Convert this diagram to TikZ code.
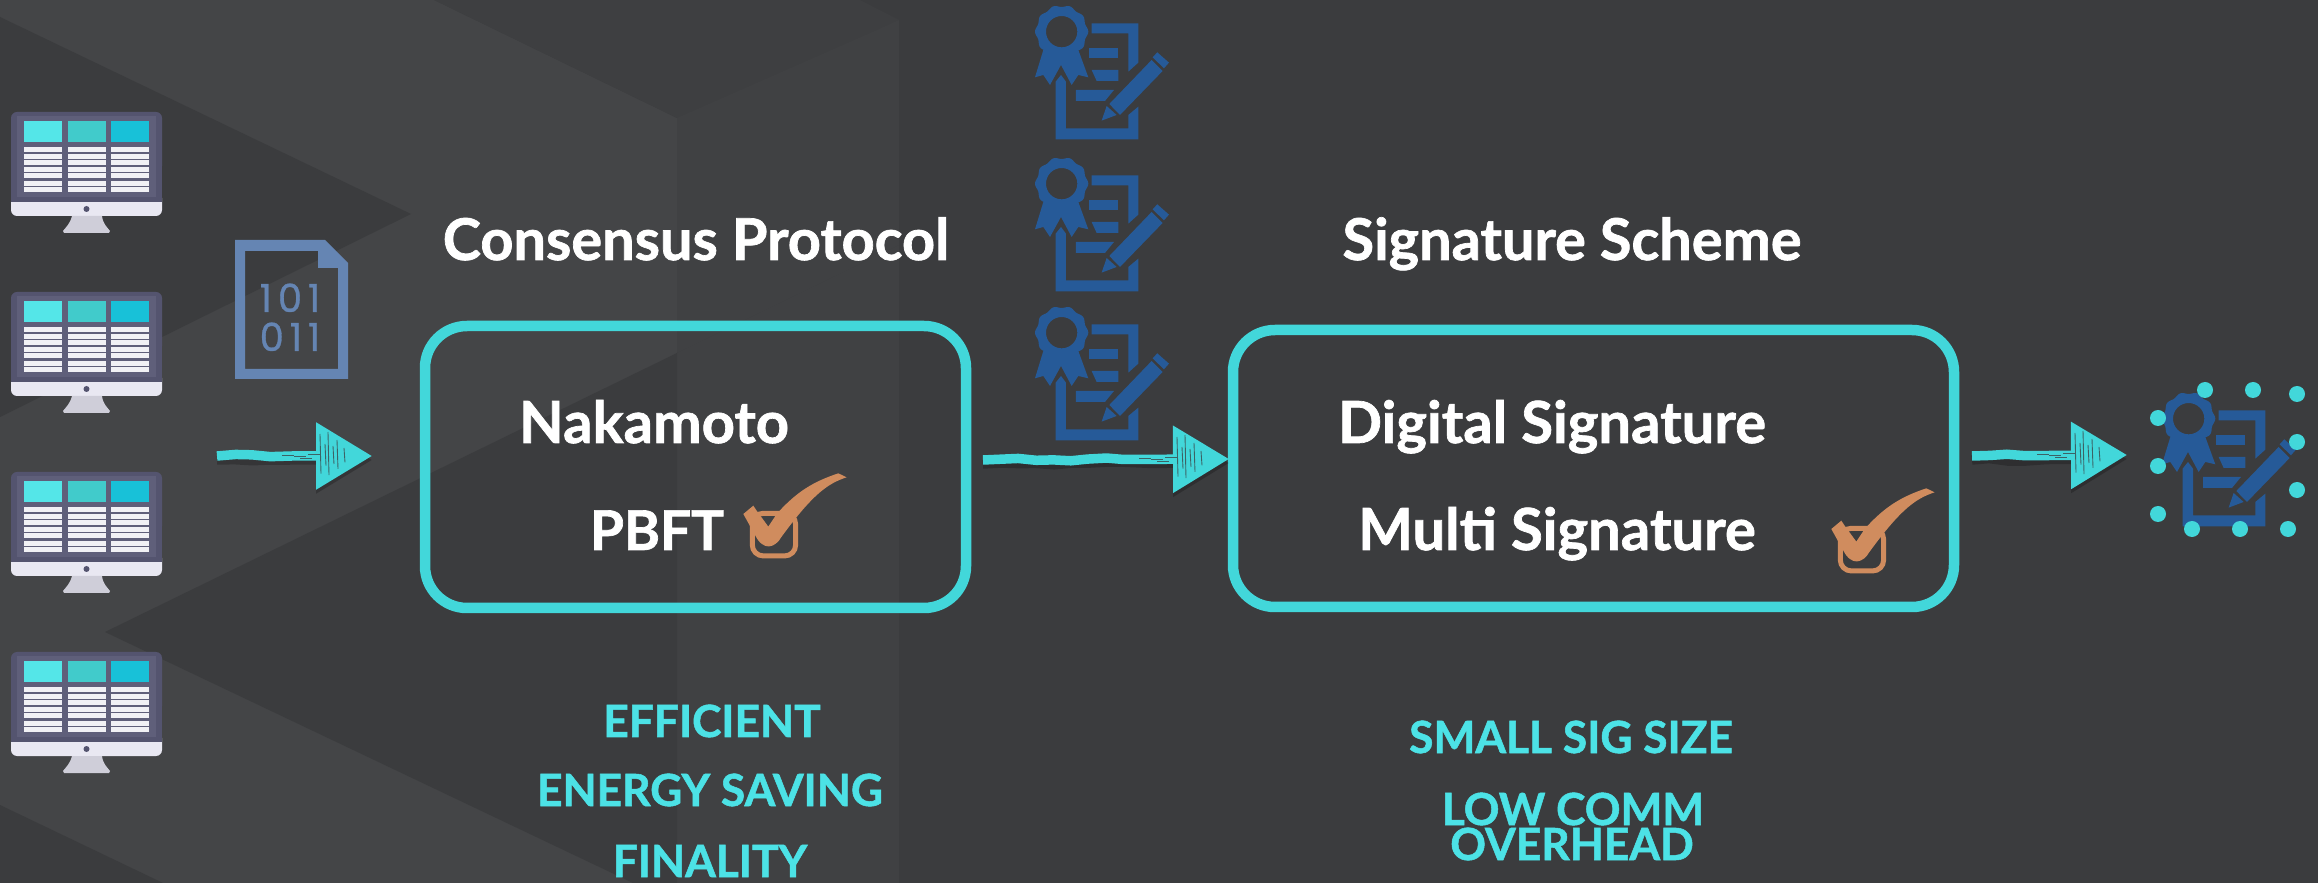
\documentclass[tikz,border=0pt]{standalone}
\usepackage{fontspec}
\setmainfont{Lato}[BoldFeatures={FakeBold=1.2}]
\newfontfamily\bitsfont{Poppins}[LetterSpace=15,FakeBold=.8]
\usetikzlibrary{arrows.meta,decorations.pathmorphing}

\definecolor{bgdark}{HTML}{3B3C3E}
\definecolor{bgmid}{HTML}{404143}
\definecolor{bgband}{HTML}{3E3F41}
\definecolor{bglight}{HTML}{444547}
\definecolor{tealline}{HTML}{42D7DA}
\definecolor{tealtext}{HTML}{4CE2E6}
\definecolor{certblue}{HTML}{265A98}
\definecolor{fileblue}{HTML}{6585B3}
\definecolor{tickorange}{HTML}{D08C5E}
\definecolor{monbezel}{HTML}{54546F}
\definecolor{monpanel}{HTML}{5F5F7A}
\definecolor{monchin}{HTML}{E9E8F2}
\definecolor{monstand}{HTML}{CFCED9}
\definecolor{monrow}{HTML}{F1F1F5}
\definecolor{monone}{HTML}{54E6E8}
\definecolor{montwo}{HTML}{41CBCB}
\definecolor{monthree}{HTML}{18C1D8}

\tikzset{
  boxstyle/.style={draw=tealline, line width=1.05mm, rounded corners=4.2mm, inner sep=0pt},
  headtext/.style={text=white, anchor=base, inner sep=0pt, font=\fontsize{16.4}{18}\selectfont\bfseries},
  itemtext/.style={text=white, anchor=base, inner sep=0pt, font=\fontsize{16.5}{18}\selectfont\bfseries},
  gaintext/.style={text=tealtext, anchor=base, inner sep=0pt, font=\fontsize{12.6}{14}\selectfont\bfseries},
  bittext/.style={text=fileblue, anchor=base, inner sep=0pt, font=\fontsize{11}{13}\selectfont\bitsfont},
  brushtip/.style={-{Triangle[length=5.6mm,width=6.5mm]}, line width=.95mm, decorate, decoration={random steps, segment length=5pt, amplitude=.45pt, post length=8mm}},
  brusharrow/.style={brushtip, tealline},
  brushshadow/.style={brushtip, black, opacity=.22},
  scratch/.style={bgdark, line width=.25pt, opacity=.75}
}

\newcommand{\certicon}[2]{
  \begin{scope}[shift={(#1,#2)}, x=0.03333mm, y=-0.03333mm]
    \fill[certblue, even odd rule] plot[domain=0:360, samples=90, smooth] ({185+(77+3*cos(10*\x))*cos(\x)},{95+(77+3*cos(10*\x))*sin(\x)}) -- cycle (185,95) circle[radius=47];
    \fill[certblue] (130,150) -- (105,232) -- (130,225) -- (150,255) -- (183,195) -- (215,255) -- (235,225) -- (265,232) -- (235,150) -- cycle;
    \fill[certblue] (275,70) -- (415,70) -- (415,188) -- (385,215) -- (385,100) -- (275,100) -- cycle;
    \fill[certblue] (183,225) -- (198,245) -- (198,385) -- (385,385) -- (385,345) -- (415,320) -- (415,418) -- (167,418) -- (167,245) -- cycle;
    \fill[certblue] (268,143) rectangle (355,175);
    \fill[certblue] (275,210) -- (355,210) -- (355,243) -- (290,243) -- cycle;
    \fill[certblue] (228,270) -- (342,270) -- (315,303) -- (228,303) -- cycle;
    \fill[certblue] (455,180) -- (488,213) -- (360,345) -- (328,312) -- cycle;
    \fill[certblue] (458,172) -- (472,157) -- (507,188) -- (492,205) -- cycle;
    \fill[certblue] (320,318) -- (350,345) -- (305,362) -- cycle;
  \end{scope}
}

\newcommand{\tickmark}[2]{
  \begin{scope}[shift={(#1,#2)}, x=0.03333mm, y=-0.03333mm]
    \draw[tickorange, line width=.5mm, rounded corners=1.1mm] (157,220) rectangle (287,348);
    \fill[tickorange] (130,222) -- (160,197) -- (170,212) -- (205,260) -- (230,222) .. controls (290,155) and (340,125) .. (415,100) -- (440,112) .. controls (385,130) and (340,160) .. (245,290) .. controls (225,325) and (190,335) .. (165,285) -- cycle;
  \end{scope}
}

\begin{document}
\begin{tikzpicture}[x=0.1mm, y=-0.1mm]

  \useasboundingbox (0,0) rectangle (2318,883);

  \fill[bgdark] (0,0) rectangle (2318,883);
  \fill[bglight] (0,0) -- (434,0) -- (677,118) -- (677,883) -- (0,883) -- cycle;
  \fill[bgband] (434,0) -- (860,0) -- (899,20) -- (899,883) -- (677,883) -- (677,118) -- cycle;
  \fill[bgmid] (677,118) -- (877,30) -- (899,20) -- (899,245) -- (677,353) -- cycle;
  \fill[bgmid] (677,353) -- (899,245) -- (899,883) -- (677,883) -- cycle;
  \fill[bgdark] (0,17) -- (411,214) -- (0,417) -- cycle;
  \fill[bgdark] (105,632) -- (677,353) -- (677,883) -- (633,883) -- cycle;
  \fill[bgdark] (0,805) -- (163,883) -- (0,883) -- cycle;

  \foreach \mony in {112,292,472,652}{
    \begin{scope}[shift={(0,\mony)}]
      \fill[monchin, rounded corners=.6mm] (11,80) rectangle (162,104);
      \fill[monbezel, rounded corners=.6mm] (11,0) rectangle (162,60);
      \fill[monbezel] (11,20) rectangle (162,90);
      \fill[monpanel] (17,4) rectangle (156,85);
      \fill[monstand] (72,104) .. controls (70,112) and (66,115) .. (63,119) -- (64,121) -- (109,121) -- (110,119) .. controls (107,115) and (103,112) .. (102,104) -- cycle;
      \fill[monbezel] (86.5,97) circle[radius=3];
      \fill[monone] (24,9) rectangle (62,30);
      \fill[montwo] (68,9) rectangle (106,30);
      \fill[monthree] (111,9) rectangle (149,30);
      \foreach \rowy in {35,41.7,47.7,55,61.3,69,75}{
        \fill[monrow] (24,\rowy) rectangle (62,\rowy+5);
        \fill[monrow] (68,\rowy) rectangle (106,\rowy+5);
        \fill[monrow] (111,\rowy) rectangle (149,\rowy+5);
      }
    \end{scope}
  }

  \fill[fileblue, even odd rule] (235,240) -- (325,240) -- (348,263) -- (348,379) -- (235,379) -- cycle
    (245,251) -- (318,251) -- (318,268) -- (338,268) -- (338,369) -- (245,369) -- cycle;
  \node (bitsone) [bittext] at (290,312) {101};
  \node (bitstwo) [bittext] at (290,351) {011};

  \certicon{1000}{0}
  \certicon{1000}{152}
  \certicon{1000}{301}
  \certicon{2127}{387}

  \foreach \dotx/\doty in {2205/390,2253/390,2297/394,2158/418,2297/442,2158/466,2297/490,2158/514,2192/529,2240/529,2288/529}{
    \fill[tealline] (\dotx,\doty) circle[radius=8];
  }

  \node (consbox) [boxstyle, minimum width=54.1mm, minimum height=28.2mm] at (695.5,467) {};
  \node (sigbox) [boxstyle, minimum width=72.1mm, minimum height=27.7mm] at (1593.5,468.5) {};

  \node (conshead) [headtext] at (696,260) {Consensus Protocol};
  \node (sighead) [headtext] at (1572,260) {Signature Scheme};
  \node (nakamoto) [itemtext] at (654,443) {Nakamoto};
  \node (pbft) [itemtext, font=\fontsize{15.6}{18}\selectfont\bfseries] at (657,550) {PBFT};
  \node (digsig) [itemtext] at (1552,443) {Digital Signature};
  \node (multisig) [itemtext] at (1557,550) {Multi Signature};

  \tickmark{700}{440}
  \tickmark{1788}{455}

  \node (efficient) [gaintext] at (712,737) {EFFICIENT};
  \node (energy) [gaintext] at (710,806) {ENERGY SAVING};
  \node (finality) [gaintext] at (710,877) {FINALITY};
  \node (smallsig) [gaintext] at (1571,753) {SMALL SIG SIZE};
  \node (lowcomm) [gaintext] at (1573,825) {LOW COMM};
  \node (overhead) [gaintext] at (1572,860) {OVERHEAD};

  \coordinate (inputstart) at (217,456);
  \coordinate (inputend) at (372,456);
  \coordinate (votestart) at (983,460);
  \coordinate (voteend) at (1229,459);
  \coordinate (aggstart) at (1972,456);
  \coordinate (aggend) at (2127,455);

  \pgfmathsetseed{7}
  \foreach \arrstart/\arrend in {inputstart/inputend,votestart/voteend,aggstart/aggend}{
    \draw[brushshadow] ([yshift=-.4mm]\arrstart) -- ([yshift=-.4mm]\arrend);
    \draw[brusharrow] (\arrstart) -- (\arrend);
  }

  \foreach \tipx/\tipy in {372/456,1229/459,2127/455}{
    \foreach \scrx/\scrlen in {-52/22,-47/12,-44/24,-39/10,-35/16,-28/8}{
      \draw[scratch] (\tipx+\scrx,\tipy-\scrlen) -- (\tipx+\scrx+1,\tipy+\scrlen*.8);
    }
    \foreach \scrx/\scrd in {-90/-1,-72/2,-64/-2,-78/0}{
      \draw[scratch] (\tipx+\scrx,\tipy+\scrd) -- (\tipx+\scrx+12,\tipy+\scrd);
    }
  }

\end{tikzpicture}
\end{document}
